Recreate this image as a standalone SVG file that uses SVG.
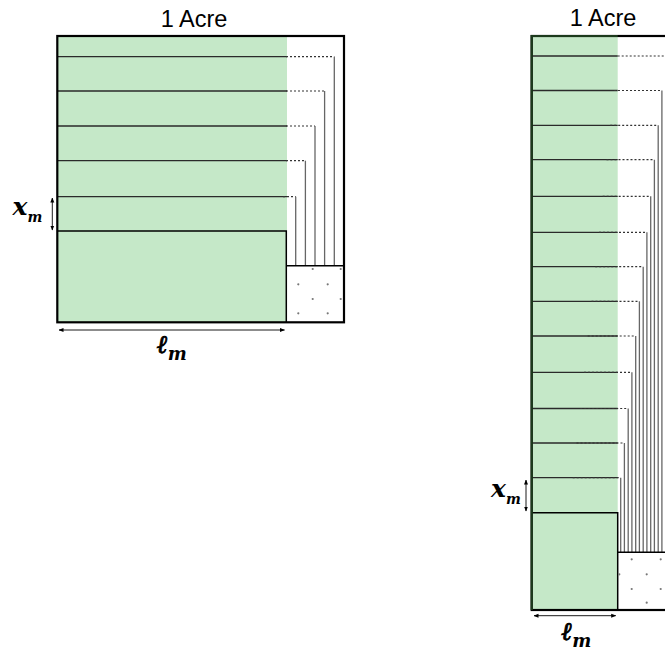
<svg xmlns="http://www.w3.org/2000/svg" width="665" height="651" viewBox="0 0 665 651">
<style>
.title{font-family:"Liberation Sans",Arial,sans-serif;font-size:23.5px;fill:#000}
.math{font-family:"DejaVu Serif","Liberation Serif",serif;font-style:italic;font-weight:bold;fill:#000}
.ell{stroke:#000;stroke-width:0.9}
.green{fill:#c5e8c8}
.row{stroke:#2a2a2a;stroke-width:1.3;fill:none}
.dot{stroke:#333;stroke-width:1.2;stroke-dasharray:2 2;fill:none}
.vert{stroke:#666;stroke-width:1.3;fill:none}
.edge{stroke:#000;stroke-width:1.5;fill:none}
.frame{stroke:#000;stroke-width:2.2;fill:none}
.arr{stroke:#000;stroke-width:0.9;fill:none;marker-start:url(#ah);marker-end:url(#ah)}
.pt{fill:#777}
</style>
<defs>
<marker id="ah" viewBox="0 0 10 10" refX="9" refY="5" markerWidth="5" markerHeight="5" orient="auto-start-reverse" markerUnits="userSpaceOnUse">
<path d="M0,1 L10,5 L0,9 z" fill="#000"/>
</marker>
</defs>

<g id="left-diagram">
<text class="title" x="194" y="27" text-anchor="middle">1 Acre</text>
<rect class="green" x="57.3" y="36" width="229.7" height="286.3"/>
<g id="left-rows">
<line class="row" x1="57.3" y1="56.7" x2="287" y2="56.7"/>
<line class="row" x1="57.3" y1="91" x2="287" y2="91"/>
<line class="row" x1="57.3" y1="126" x2="287" y2="126"/>
<line class="row" x1="57.3" y1="160.7" x2="287" y2="160.7"/>
<line class="row" x1="57.3" y1="196.7" x2="287" y2="196.7"/>
<path class="edge" d="M57.3,231 H286.3 V322.3"/>
</g>
<g id="left-connectors">
<path class="dot" d="M286,56.7 H334.3"/>
<path class="dot" d="M286,91 H324.6"/>
<path class="dot" d="M286,126 H315"/>
<path class="dot" d="M286,160.7 H305.4"/>
<path class="dot" d="M283,196.7 H295.7"/>
<path class="vert" d="M334.3,56.7 V265.7"/>
<path class="vert" d="M324.6,91 V265.7"/>
<path class="vert" d="M315,126 V265.7"/>
<path class="vert" d="M305.4,160.7 V265.7"/>
<path class="vert" d="M295.7,196.7 V265.7"/>
</g>
<g id="left-plot">
<path class="edge" d="M286.3,265.7 H344"/>
<circle class="pt" cx="312.7" cy="269" r="1.1"/>
<circle class="pt" cx="340.7" cy="269" r="1.1"/>
<circle class="pt" cx="298.3" cy="284.3" r="1.1"/>
<circle class="pt" cx="327.7" cy="284.3" r="1.1"/>
<circle class="pt" cx="312.7" cy="299" r="1.1"/>
<circle class="pt" cx="340.7" cy="299" r="1.1"/>
<circle class="pt" cx="298.3" cy="313.3" r="1.1"/>
<circle class="pt" cx="327.7" cy="313.3" r="1.1"/>
</g>
<rect class="frame" x="57.3" y="36" width="286.7" height="286.3"/>
<g id="left-xm">
<line class="arr" x1="52.3" y1="198" x2="52.3" y2="230"/>
<text class="math" x="12.5" y="215" font-size="25">x<tspan font-size="14" dy="7">m</tspan></text>
</g>
<g id="left-lm">
<line class="arr" x1="59" y1="330" x2="284.5" y2="330"/>
<text class="math" x="157" y="353" font-size="25"><tspan class="ell">ℓ</tspan><tspan font-size="18" dy="7">m</tspan></text>
</g>
</g>

<g id="right-diagram">
<text class="title" x="603" y="26" text-anchor="middle">1 Acre</text>
<rect class="green" x="531.7" y="36" width="86" height="574"/>
<g id="right-rows">
<line class="row" x1="531.7" y1="56" x2="617.7" y2="56"/>
<line class="row" x1="531.7" y1="90.5" x2="617.7" y2="90.5"/>
<line class="row" x1="531.7" y1="125.3" x2="617.7" y2="125.3"/>
<line class="row" x1="531.7" y1="159.7" x2="617.7" y2="159.7"/>
<line class="row" x1="531.7" y1="196.3" x2="617.7" y2="196.3"/>
<line class="row" x1="531.7" y1="232.3" x2="617.7" y2="232.3"/>
<line class="row" x1="531.7" y1="266.7" x2="617.7" y2="266.7"/>
<line class="row" x1="531.7" y1="301.3" x2="617.7" y2="301.3"/>
<line class="row" x1="531.7" y1="336" x2="617.7" y2="336"/>
<line class="row" x1="531.7" y1="372.3" x2="617.7" y2="372.3"/>
<line class="row" x1="531.7" y1="408.5" x2="617.7" y2="408.5"/>
<line class="row" x1="531.7" y1="443" x2="617.7" y2="443"/>
<line class="row" x1="531.7" y1="477.7" x2="617.7" y2="477.7"/>
<path class="edge" d="M531.7,512.7 H617.7 V610"/>
</g>
<g id="right-connectors">
<path class="dot" d="M617.7,56 H665.7"/>
<path class="dot" d="M614,90.5 H661.9"/>
<path class="dot" d="M610.2,125.3 H658.2"/>
<path class="dot" d="M606.5,159.7 H654.4"/>
<path class="dot" d="M602.7,196.3 H650.7"/>
<path class="dot" d="M599,232.3 H646.9"/>
<path class="dot" d="M595.2,266.7 H643.2"/>
<path class="dot" d="M591.5,301.3 H639.4"/>
<path class="dot" d="M587.7,336 H635.7"/>
<path class="dot" d="M584,372.3 H631.9"/>
<path class="dot" d="M580.2,408.5 H628.2"/>
<path class="dot" d="M576.5,443 H624.4"/>
<path class="dot" d="M572.7,477.7 H620.7"/>
<path class="vert" d="M665.7,56 V552.3"/>
<path class="vert" d="M661.9,90.5 V552.3"/>
<path class="vert" d="M658.2,125.3 V552.3"/>
<path class="vert" d="M654.4,159.7 V552.3"/>
<path class="vert" d="M650.7,196.3 V552.3"/>
<path class="vert" d="M646.9,232.3 V552.3"/>
<path class="vert" d="M643.2,266.7 V552.3"/>
<path class="vert" d="M639.4,301.3 V552.3"/>
<path class="vert" d="M635.7,336 V552.3"/>
<path class="vert" d="M631.9,372.3 V552.3"/>
<path class="vert" d="M628.2,408.5 V552.3"/>
<path class="vert" d="M624.4,443 V552.3"/>
<path class="vert" d="M620.7,477.7 V552.3"/>
</g>
<g id="right-plot">
<path class="edge" d="M617.7,552.3 H668"/>
<circle class="pt" cx="631.7" cy="559.3" r="1.1"/>
<circle class="pt" cx="660.7" cy="559.3" r="1.1"/>
<circle class="pt" cx="619.3" cy="574.3" r="1.1"/>
<circle class="pt" cx="646.7" cy="574.3" r="1.1"/>
<circle class="pt" cx="631.7" cy="589" r="1.1"/>
<circle class="pt" cx="660.7" cy="589" r="1.1"/>
<circle class="pt" cx="646.7" cy="602.7" r="1.1"/>
</g>
<rect class="frame" x="531.7" y="36" width="143.5" height="574"/>
<path d="M531.7,610 V36 H617.7" stroke="#1c3a1c" stroke-width="2.2" fill="none"/>
<g id="right-xm">
<line class="arr" x1="526" y1="480" x2="526" y2="511"/>
<text class="math" x="491" y="497" font-size="25">x<tspan font-size="14" dy="7">m</tspan></text>
</g>
<g id="right-lm">
<line class="arr" x1="534" y1="615.7" x2="615.7" y2="615.7"/>
<text class="math" x="561.5" y="640" font-size="25"><tspan class="ell">ℓ</tspan><tspan font-size="18" dy="7">m</tspan></text>
</g>
</g>
</svg>
